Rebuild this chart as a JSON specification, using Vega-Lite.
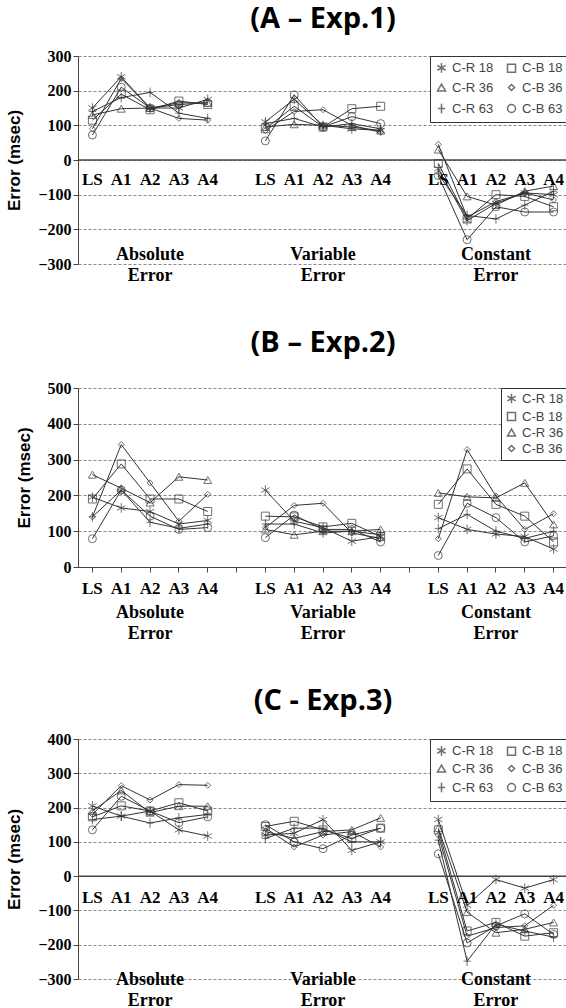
{
"$schema": "https://vega.github.io/schema/vega-lite/v6.json",
"background": "white",
"config": {"view": {"stroke": null}},
"spacing": 44,
"resolve": {"scale": {"shape": "independent"}, "legend": {"shape": "independent"}},
"vconcat": [
{
  "title": {"text": "(A – Exp.1)", "font": "Open Sans", "fontSize": 29, "fontWeight": "bold", "color": "#000", "anchor": "middle", "offset": 14},
  "width": 490, "height": 208,
  "data": {"values": [
{"m":"Absolute","s":"C-R 18","k":"LS","v":150},{"m":"Absolute","s":"C-R 18","k":"A1","v":240},{"m":"Absolute","s":"C-R 18","k":"A2","v":150},{"m":"Absolute","s":"C-R 18","k":"A3","v":150},{"m":"Absolute","s":"C-R 18","k":"A4","v":175},
{"m":"Absolute","s":"C-B 18","k":"LS","v":115},{"m":"Absolute","s":"C-B 18","k":"A1","v":190},{"m":"Absolute","s":"C-B 18","k":"A2","v":145},{"m":"Absolute","s":"C-B 18","k":"A3","v":170},{"m":"Absolute","s":"C-B 18","k":"A4","v":160},
{"m":"Absolute","s":"C-R 36","k":"LS","v":130},{"m":"Absolute","s":"C-R 36","k":"A1","v":148},{"m":"Absolute","s":"C-R 36","k":"A2","v":150},{"m":"Absolute","s":"C-R 36","k":"A3","v":165},{"m":"Absolute","s":"C-R 36","k":"A4","v":165},
{"m":"Absolute","s":"C-B 36","k":"LS","v":90},{"m":"Absolute","s":"C-B 36","k":"A1","v":235},{"m":"Absolute","s":"C-B 36","k":"A2","v":150},{"m":"Absolute","s":"C-B 36","k":"A3","v":120},{"m":"Absolute","s":"C-B 36","k":"A4","v":115},
{"m":"Absolute","s":"C-R 63","k":"LS","v":140},{"m":"Absolute","s":"C-R 63","k":"A1","v":180},{"m":"Absolute","s":"C-R 63","k":"A2","v":195},{"m":"Absolute","s":"C-R 63","k":"A3","v":135},{"m":"Absolute","s":"C-R 63","k":"A4","v":120},
{"m":"Absolute","s":"C-B 63","k":"LS","v":72},{"m":"Absolute","s":"C-B 63","k":"A1","v":210},{"m":"Absolute","s":"C-B 63","k":"A2","v":150},{"m":"Absolute","s":"C-B 63","k":"A3","v":160},{"m":"Absolute","s":"C-B 63","k":"A4","v":165},
{"m":"Variable","s":"C-R 18","k":"LS","v":110},{"m":"Variable","s":"C-R 18","k":"A1","v":175},{"m":"Variable","s":"C-R 18","k":"A2","v":100},{"m":"Variable","s":"C-R 18","k":"A3","v":90},{"m":"Variable","s":"C-R 18","k":"A4","v":85},
{"m":"Variable","s":"C-B 18","k":"LS","v":90},{"m":"Variable","s":"C-B 18","k":"A1","v":155},{"m":"Variable","s":"C-B 18","k":"A2","v":95},{"m":"Variable","s":"C-B 18","k":"A3","v":148},{"m":"Variable","s":"C-B 18","k":"A4","v":155},
{"m":"Variable","s":"C-R 36","k":"LS","v":95},{"m":"Variable","s":"C-R 36","k":"A1","v":103},{"m":"Variable","s":"C-R 36","k":"A2","v":100},{"m":"Variable","s":"C-R 36","k":"A3","v":95},{"m":"Variable","s":"C-R 36","k":"A4","v":85},
{"m":"Variable","s":"C-B 36","k":"LS","v":85},{"m":"Variable","s":"C-B 36","k":"A1","v":140},{"m":"Variable","s":"C-B 36","k":"A2","v":145},{"m":"Variable","s":"C-B 36","k":"A3","v":100},{"m":"Variable","s":"C-B 36","k":"A4","v":80},
{"m":"Variable","s":"C-R 63","k":"LS","v":105},{"m":"Variable","s":"C-R 63","k":"A1","v":120},{"m":"Variable","s":"C-R 63","k":"A2","v":95},{"m":"Variable","s":"C-R 63","k":"A3","v":105},{"m":"Variable","s":"C-R 63","k":"A4","v":90},
{"m":"Variable","s":"C-B 63","k":"LS","v":55},{"m":"Variable","s":"C-B 63","k":"A1","v":188},{"m":"Variable","s":"C-B 63","k":"A2","v":95},{"m":"Variable","s":"C-B 63","k":"A3","v":125},{"m":"Variable","s":"C-B 63","k":"A4","v":105},
{"m":"Constant","s":"C-R 18","k":"LS","v":-25},{"m":"Constant","s":"C-R 18","k":"A1","v":-175},{"m":"Constant","s":"C-R 18","k":"A2","v":-125},{"m":"Constant","s":"C-R 18","k":"A3","v":-95},{"m":"Constant","s":"C-R 18","k":"A4","v":-100},
{"m":"Constant","s":"C-B 18","k":"LS","v":-10},{"m":"Constant","s":"C-B 18","k":"A1","v":-170},{"m":"Constant","s":"C-B 18","k":"A2","v":-100},{"m":"Constant","s":"C-B 18","k":"A3","v":-105},{"m":"Constant","s":"C-B 18","k":"A4","v":-135},
{"m":"Constant","s":"C-R 36","k":"LS","v":30},{"m":"Constant","s":"C-R 36","k":"A1","v":-105},{"m":"Constant","s":"C-R 36","k":"A2","v":-130},{"m":"Constant","s":"C-R 36","k":"A3","v":-90},{"m":"Constant","s":"C-R 36","k":"A4","v":-75},
{"m":"Constant","s":"C-B 36","k":"LS","v":45},{"m":"Constant","s":"C-B 36","k":"A1","v":-165},{"m":"Constant","s":"C-B 36","k":"A2","v":-120},{"m":"Constant","s":"C-B 36","k":"A3","v":-95},{"m":"Constant","s":"C-B 36","k":"A4","v":-115},
{"m":"Constant","s":"C-R 63","k":"LS","v":-40},{"m":"Constant","s":"C-R 63","k":"A1","v":-160},{"m":"Constant","s":"C-R 63","k":"A2","v":-170},{"m":"Constant","s":"C-R 63","k":"A3","v":-130},{"m":"Constant","s":"C-R 63","k":"A4","v":-90},
{"m":"Constant","s":"C-B 63","k":"LS","v":-45},{"m":"Constant","s":"C-B 63","k":"A1","v":-230},{"m":"Constant","s":"C-B 63","k":"A2","v":-135},{"m":"Constant","s":"C-B 63","k":"A3","v":-150},{"m":"Constant","s":"C-B 63","k":"A4","v":-150}
  ]},
  "transform": [{"calculate": "datum.m + '_' + datum.k", "as": "pos"}],
  "layer": [
    {"mark": {"type": "line", "color": "#333", "strokeWidth": 1},
     "encoding": {
       "x": {"field": "pos", "type": "nominal", "scale": {"type": "band", "paddingInner": 0, "paddingOuter": 0, "domain": ["Absolute_LS","Absolute_A1","Absolute_A2","Absolute_A3","Absolute_A4","gap1","Variable_LS","Variable_A1","Variable_A2","Variable_A3","Variable_A4","gap2","Constant_LS","Constant_A1","Constant_A2","Constant_A3","Constant_A4"]}, "axis": null},
       "y": {"field": "v", "type": "quantitative", "scale": {"domain": [-300, 300], "nice": false, "zero": false}, "axis": {"title": "Error (msec)", "values": [-300,-200,-100,0,100,200,300], "tickCount": 50, "gridDash": [3, 2], "gridColor": "#888", "labelFont": "Liberation Serif", "labelFontWeight": "bold", "labelFontSize": 16, "labelColor": "#000", "titleFontSize": 17, "titleColor": "#000", "titlePadding": 14, "domainColor": "#444", "tickColor": "#444"}},
       "detail": [{"field": "s", "type": "nominal"}, {"field": "m", "type": "nominal"}]}},
    {"mark": {"type": "point", "color": "#333", "filled": false, "size": 64, "strokeWidth": 1},
     "encoding": {
       "x": {"field": "pos", "type": "nominal"},
       "y": {"field": "v", "type": "quantitative"},
       "shape": {"field": "s", "type": "nominal", "scale": {"domain": ["C-R 18","C-R 36","C-R 63","C-B 18","C-B 36","C-B 63"], "range": ["M0,-1.2L0,1.2M-1.04,-0.6L1.04,0.6M-1.04,0.6L1.04,-0.6","triangle-up","M0,-1.2L0,1.2M-0.9,0L0.9,0","square","M0,-0.75L0.75,0L0,0.75L-0.75,0Z","circle"]},
         "legend": {"title": null, "orient": "top-right", "offset": 0, "columns": 2, "strokeColor": "#333", "fillColor": "white", "padding": 5, "rowPadding": 5, "columnPadding": 10, "symbolSize": 64, "labelFont": "Liberation Sans", "labelFontSize": 13, "labelColor": "#444"}}}},
    {"data": {"values": [{"z": 0}]},
     "mark": {"type": "rule", "color": "#444", "strokeWidth": 1.5},
     "encoding": {"y": {"field": "z", "type": "quantitative"}}},
    {"data": {"values": [{"pos":"Absolute_LS","t":"LS"},{"pos":"Absolute_A1","t":"A1"},{"pos":"Absolute_A2","t":"A2"},{"pos":"Absolute_A3","t":"A3"},{"pos":"Absolute_A4","t":"A4"},{"pos":"Variable_LS","t":"LS"},{"pos":"Variable_A1","t":"A1"},{"pos":"Variable_A2","t":"A2"},{"pos":"Variable_A3","t":"A3"},{"pos":"Variable_A4","t":"A4"},{"pos":"Constant_LS","t":"LS"},{"pos":"Constant_A1","t":"A1"},{"pos":"Constant_A2","t":"A2"},{"pos":"Constant_A3","t":"A3"},{"pos":"Constant_A4","t":"A4"}]},
     "mark": {"type": "text", "font": "Liberation Serif", "fontWeight": "bold", "fontSize": 17, "baseline": "top", "dy": 12, "color": "#000"},
     "encoding": {"x": {"field": "pos", "type": "nominal"}, "y": {"datum": 0}, "text": {"field": "t"}}},
    {"data": {"values": [{"pos":"Absolute_A2","label":"Absolute\nError"},{"pos":"Variable_A2","label":"Variable\nError"},{"pos":"Constant_A2","label":"Constant\nError"}]},
     "mark": {"type": "text", "lineBreak": "\n", "font": "Liberation Serif", "fontWeight": "bold", "fontSize": 18, "lineHeight": 21, "baseline": "alphabetic", "dy": -4, "color": "#000"},
     "encoding": {"x": {"field": "pos", "type": "nominal"}, "y": {"datum": -300}, "text": {"field": "label"}}}
  ]
},
{
  "title": {"text": "(B – Exp.2)", "font": "Open Sans", "fontSize": 29, "fontWeight": "bold", "color": "#000", "anchor": "middle", "offset": 22},
  "width": 490, "height": 179,
  "data": {"values": [
{"m":"Absolute","s":"C-R 18","k":"LS","v":195},{"m":"Absolute","s":"C-R 18","k":"A1","v":165},{"m":"Absolute","s":"C-R 18","k":"A2","v":155},{"m":"Absolute","s":"C-R 18","k":"A3","v":120},{"m":"Absolute","s":"C-R 18","k":"A4","v":130},
{"m":"Absolute","s":"C-B 18","k":"LS","v":190},{"m":"Absolute","s":"C-B 18","k":"A1","v":288},{"m":"Absolute","s":"C-B 18","k":"A2","v":190},{"m":"Absolute","s":"C-B 18","k":"A3","v":190},{"m":"Absolute","s":"C-B 18","k":"A4","v":155},
{"m":"Absolute","s":"C-R 36","k":"LS","v":258},{"m":"Absolute","s":"C-R 36","k":"A1","v":220},{"m":"Absolute","s":"C-R 36","k":"A2","v":180},{"m":"Absolute","s":"C-R 36","k":"A3","v":252},{"m":"Absolute","s":"C-R 36","k":"A4","v":243},
{"m":"Absolute","s":"C-B 36","k":"LS","v":140},{"m":"Absolute","s":"C-B 36","k":"A1","v":342},{"m":"Absolute","s":"C-B 36","k":"A2","v":235},{"m":"Absolute","s":"C-B 36","k":"A3","v":128},{"m":"Absolute","s":"C-B 36","k":"A4","v":203},
{"m":"Absolute","s":"C-R 63","k":"LS","v":140},{"m":"Absolute","s":"C-R 63","k":"A1","v":215},{"m":"Absolute","s":"C-R 63","k":"A2","v":125},{"m":"Absolute","s":"C-R 63","k":"A3","v":108},{"m":"Absolute","s":"C-R 63","k":"A4","v":120},
{"m":"Absolute","s":"C-B 63","k":"LS","v":79},{"m":"Absolute","s":"C-B 63","k":"A1","v":215},{"m":"Absolute","s":"C-B 63","k":"A2","v":142},{"m":"Absolute","s":"C-B 63","k":"A3","v":105},{"m":"Absolute","s":"C-B 63","k":"A4","v":110},
{"m":"Variable","s":"C-R 18","k":"LS","v":215},{"m":"Variable","s":"C-R 18","k":"A1","v":128},{"m":"Variable","s":"C-R 18","k":"A2","v":110},{"m":"Variable","s":"C-R 18","k":"A3","v":72},{"m":"Variable","s":"C-R 18","k":"A4","v":85},
{"m":"Variable","s":"C-B 18","k":"LS","v":142},{"m":"Variable","s":"C-B 18","k":"A1","v":140},{"m":"Variable","s":"C-B 18","k":"A2","v":112},{"m":"Variable","s":"C-B 18","k":"A3","v":122},{"m":"Variable","s":"C-B 18","k":"A4","v":85},
{"m":"Variable","s":"C-R 36","k":"LS","v":105},{"m":"Variable","s":"C-R 36","k":"A1","v":90},{"m":"Variable","s":"C-R 36","k":"A2","v":100},{"m":"Variable","s":"C-R 36","k":"A3","v":100},{"m":"Variable","s":"C-R 36","k":"A4","v":105},
{"m":"Variable","s":"C-B 36","k":"LS","v":110},{"m":"Variable","s":"C-B 36","k":"A1","v":172},{"m":"Variable","s":"C-B 36","k":"A2","v":178},{"m":"Variable","s":"C-B 36","k":"A3","v":95},{"m":"Variable","s":"C-B 36","k":"A4","v":80},
{"m":"Variable","s":"C-R 63","k":"LS","v":120},{"m":"Variable","s":"C-R 63","k":"A1","v":120},{"m":"Variable","s":"C-R 63","k":"A2","v":95},{"m":"Variable","s":"C-R 63","k":"A3","v":100},{"m":"Variable","s":"C-R 63","k":"A4","v":90},
{"m":"Variable","s":"C-B 63","k":"LS","v":82},{"m":"Variable","s":"C-B 63","k":"A1","v":145},{"m":"Variable","s":"C-B 63","k":"A2","v":105},{"m":"Variable","s":"C-B 63","k":"A3","v":105},{"m":"Variable","s":"C-B 63","k":"A4","v":70},
{"m":"Constant","s":"C-R 18","k":"LS","v":138},{"m":"Constant","s":"C-R 18","k":"A1","v":105},{"m":"Constant","s":"C-R 18","k":"A2","v":92},{"m":"Constant","s":"C-R 18","k":"A3","v":85},{"m":"Constant","s":"C-R 18","k":"A4","v":50},
{"m":"Constant","s":"C-B 18","k":"LS","v":175},{"m":"Constant","s":"C-B 18","k":"A1","v":274},{"m":"Constant","s":"C-B 18","k":"A2","v":175},{"m":"Constant","s":"C-B 18","k":"A3","v":142},{"m":"Constant","s":"C-B 18","k":"A4","v":70},
{"m":"Constant","s":"C-R 36","k":"LS","v":207},{"m":"Constant","s":"C-R 36","k":"A1","v":196},{"m":"Constant","s":"C-R 36","k":"A2","v":193},{"m":"Constant","s":"C-R 36","k":"A3","v":235},{"m":"Constant","s":"C-R 36","k":"A4","v":119},
{"m":"Constant","s":"C-B 36","k":"LS","v":79},{"m":"Constant","s":"C-B 36","k":"A1","v":328},{"m":"Constant","s":"C-B 36","k":"A2","v":198},{"m":"Constant","s":"C-B 36","k":"A3","v":105},{"m":"Constant","s":"C-B 36","k":"A4","v":149},
{"m":"Constant","s":"C-R 63","k":"LS","v":107},{"m":"Constant","s":"C-R 63","k":"A1","v":147},{"m":"Constant","s":"C-R 63","k":"A2","v":100},{"m":"Constant","s":"C-R 63","k":"A3","v":80},{"m":"Constant","s":"C-R 63","k":"A4","v":100},
{"m":"Constant","s":"C-B 63","k":"LS","v":32},{"m":"Constant","s":"C-B 63","k":"A1","v":178},{"m":"Constant","s":"C-B 63","k":"A2","v":138},{"m":"Constant","s":"C-B 63","k":"A3","v":70},{"m":"Constant","s":"C-B 63","k":"A4","v":87}
  ]},
  "transform": [{"calculate": "datum.m + '_' + datum.k", "as": "pos"}],
  "layer": [
    {"mark": {"type": "line", "color": "#333", "strokeWidth": 1},
     "encoding": {
       "x": {"field": "pos", "type": "nominal", "scale": {"type": "band", "paddingInner": 0, "paddingOuter": 0, "domain": ["Absolute_LS","Absolute_A1","Absolute_A2","Absolute_A3","Absolute_A4","gap1","Variable_LS","Variable_A1","Variable_A2","Variable_A3","Variable_A4","gap2","Constant_LS","Constant_A1","Constant_A2","Constant_A3","Constant_A4"]}, "axis": {"title": null, "labelAngle": 0, "labelExpr": "indexof(datum.value, '_') > 0 ? split(datum.value, '_')[1] : ''", "labelFont": "Liberation Serif", "labelFontWeight": "bold", "labelFontSize": 17, "labelColor": "#000", "labelPadding": 8, "domainColor": "#444", "tickColor": "#444"}},
       "y": {"field": "v", "type": "quantitative", "scale": {"domain": [0, 500], "nice": false, "zero": false}, "axis": {"title": "Error (msec)", "values": [0,100,200,300,400,500], "tickCount": 50, "gridDash": [3, 2], "gridColor": "#888", "labelFont": "Liberation Serif", "labelFontWeight": "bold", "labelFontSize": 16, "labelColor": "#000", "titleFontSize": 17, "titleColor": "#000", "titlePadding": 14, "domainColor": "#444", "tickColor": "#444"}},
       "detail": [{"field": "s", "type": "nominal"}, {"field": "m", "type": "nominal"}]}},
    {"mark": {"type": "point", "color": "#333", "filled": false, "size": 64, "strokeWidth": 1},
     "encoding": {
       "x": {"field": "pos", "type": "nominal"},
       "y": {"field": "v", "type": "quantitative"},
       "shape": {"field": "s", "type": "nominal", "scale": {"domain": ["C-R 18","C-B 18","C-R 36","C-B 36","C-R 63","C-B 63"], "range": ["M0,-1.2L0,1.2M-1.04,-0.6L1.04,0.6M-1.04,0.6L1.04,-0.6","square","triangle-up","M0,-0.75L0.75,0L0,0.75L-0.75,0Z","M0,-1.2L0,1.2M-0.9,0L0.9,0","circle"]},
         "legend": {"title": null, "orient": "top-right", "offset": 0, "values": ["C-R 18","C-B 18","C-R 36","C-B 36"], "strokeColor": "#333", "fillColor": "white", "padding": 4, "rowPadding": 2, "symbolSize": 64, "labelFont": "Liberation Sans", "labelFontSize": 13, "labelColor": "#444"}}}},
    {"data": {"values": [{"pos":"Absolute_A2","label":"Absolute\nError"},{"pos":"Variable_A2","label":"Variable\nError"},{"pos":"Constant_A2","label":"Constant\nError"}]},
     "mark": {"type": "text", "lineBreak": "\n", "font": "Liberation Serif", "fontWeight": "bold", "fontSize": 18, "lineHeight": 21, "baseline": "alphabetic", "dy": 51, "color": "#000"},
     "encoding": {"x": {"field": "pos", "type": "nominal"}, "y": {"datum": 0}, "text": {"field": "label"}}}
  ]
},
{
  "title": {"text": "(C - Exp.3)", "font": "Open Sans", "fontSize": 29, "fontWeight": "bold", "color": "#000", "anchor": "middle", "offset": 15},
  "width": 490, "height": 240,
  "data": {"values": [
{"m":"Absolute","s":"C-R 18","k":"LS","v":205},{"m":"Absolute","s":"C-R 18","k":"A1","v":175},{"m":"Absolute","s":"C-R 18","k":"A2","v":190},{"m":"Absolute","s":"C-R 18","k":"A3","v":135},{"m":"Absolute","s":"C-R 18","k":"A4","v":117},
{"m":"Absolute","s":"C-B 18","k":"LS","v":173},{"m":"Absolute","s":"C-B 18","k":"A1","v":205},{"m":"Absolute","s":"C-B 18","k":"A2","v":190},{"m":"Absolute","s":"C-B 18","k":"A3","v":214},{"m":"Absolute","s":"C-B 18","k":"A4","v":190},
{"m":"Absolute","s":"C-R 36","k":"LS","v":190},{"m":"Absolute","s":"C-R 36","k":"A1","v":250},{"m":"Absolute","s":"C-R 36","k":"A2","v":185},{"m":"Absolute","s":"C-R 36","k":"A3","v":204},{"m":"Absolute","s":"C-R 36","k":"A4","v":204},
{"m":"Absolute","s":"C-B 36","k":"LS","v":180},{"m":"Absolute","s":"C-B 36","k":"A1","v":264},{"m":"Absolute","s":"C-B 36","k":"A2","v":222},{"m":"Absolute","s":"C-B 36","k":"A3","v":267},{"m":"Absolute","s":"C-B 36","k":"A4","v":265},
{"m":"Absolute","s":"C-R 63","k":"LS","v":165},{"m":"Absolute","s":"C-R 63","k":"A1","v":175},{"m":"Absolute","s":"C-R 63","k":"A2","v":155},{"m":"Absolute","s":"C-R 63","k":"A3","v":170},{"m":"Absolute","s":"C-R 63","k":"A4","v":180},
{"m":"Absolute","s":"C-B 63","k":"LS","v":135},{"m":"Absolute","s":"C-B 63","k":"A1","v":233},{"m":"Absolute","s":"C-B 63","k":"A2","v":190},{"m":"Absolute","s":"C-B 63","k":"A3","v":156},{"m":"Absolute","s":"C-B 63","k":"A4","v":173},
{"m":"Variable","s":"C-R 18","k":"LS","v":120},{"m":"Variable","s":"C-R 18","k":"A1","v":125},{"m":"Variable","s":"C-R 18","k":"A2","v":165},{"m":"Variable","s":"C-R 18","k":"A3","v":75},{"m":"Variable","s":"C-R 18","k":"A4","v":100},
{"m":"Variable","s":"C-B 18","k":"LS","v":145},{"m":"Variable","s":"C-B 18","k":"A1","v":160},{"m":"Variable","s":"C-B 18","k":"A2","v":135},{"m":"Variable","s":"C-B 18","k":"A3","v":110},{"m":"Variable","s":"C-B 18","k":"A4","v":140},
{"m":"Variable","s":"C-R 36","k":"LS","v":130},{"m":"Variable","s":"C-R 36","k":"A1","v":110},{"m":"Variable","s":"C-R 36","k":"A2","v":130},{"m":"Variable","s":"C-R 36","k":"A3","v":135},{"m":"Variable","s":"C-R 36","k":"A4","v":170},
{"m":"Variable","s":"C-B 36","k":"LS","v":140},{"m":"Variable","s":"C-B 36","k":"A1","v":85},{"m":"Variable","s":"C-B 36","k":"A2","v":120},{"m":"Variable","s":"C-B 36","k":"A3","v":130},{"m":"Variable","s":"C-B 36","k":"A4","v":85},
{"m":"Variable","s":"C-R 63","k":"LS","v":110},{"m":"Variable","s":"C-R 63","k":"A1","v":140},{"m":"Variable","s":"C-R 63","k":"A2","v":140},{"m":"Variable","s":"C-R 63","k":"A3","v":100},{"m":"Variable","s":"C-R 63","k":"A4","v":100},
{"m":"Variable","s":"C-B 63","k":"LS","v":150},{"m":"Variable","s":"C-B 63","k":"A1","v":100},{"m":"Variable","s":"C-B 63","k":"A2","v":80},{"m":"Variable","s":"C-B 63","k":"A3","v":120},{"m":"Variable","s":"C-B 63","k":"A4","v":140},
{"m":"Constant","s":"C-R 18","k":"LS","v":165},{"m":"Constant","s":"C-R 18","k":"A1","v":-85},{"m":"Constant","s":"C-R 18","k":"A2","v":-10},{"m":"Constant","s":"C-R 18","k":"A3","v":-35},{"m":"Constant","s":"C-R 18","k":"A4","v":-10},
{"m":"Constant","s":"C-B 18","k":"LS","v":135},{"m":"Constant","s":"C-B 18","k":"A1","v":-160},{"m":"Constant","s":"C-B 18","k":"A2","v":-135},{"m":"Constant","s":"C-B 18","k":"A3","v":-175},{"m":"Constant","s":"C-B 18","k":"A4","v":-165},
{"m":"Constant","s":"C-R 36","k":"LS","v":140},{"m":"Constant","s":"C-R 36","k":"A1","v":-105},{"m":"Constant","s":"C-R 36","k":"A2","v":-165},{"m":"Constant","s":"C-R 36","k":"A3","v":-155},{"m":"Constant","s":"C-R 36","k":"A4","v":-135},
{"m":"Constant","s":"C-B 36","k":"LS","v":120},{"m":"Constant","s":"C-B 36","k":"A1","v":-175},{"m":"Constant","s":"C-B 36","k":"A2","v":-150},{"m":"Constant","s":"C-B 36","k":"A3","v":-145},{"m":"Constant","s":"C-B 36","k":"A4","v":-85},
{"m":"Constant","s":"C-R 63","k":"LS","v":105},{"m":"Constant","s":"C-R 63","k":"A1","v":-248},{"m":"Constant","s":"C-R 63","k":"A2","v":-140},{"m":"Constant","s":"C-R 63","k":"A3","v":-160},{"m":"Constant","s":"C-R 63","k":"A4","v":-178},
{"m":"Constant","s":"C-B 63","k":"LS","v":65},{"m":"Constant","s":"C-B 63","k":"A1","v":-195},{"m":"Constant","s":"C-B 63","k":"A2","v":-145},{"m":"Constant","s":"C-B 63","k":"A3","v":-110},{"m":"Constant","s":"C-B 63","k":"A4","v":-170}
  ]},
  "transform": [{"calculate": "datum.m + '_' + datum.k", "as": "pos"}],
  "layer": [
    {"mark": {"type": "line", "color": "#333", "strokeWidth": 1},
     "encoding": {
       "x": {"field": "pos", "type": "nominal", "scale": {"type": "band", "paddingInner": 0, "paddingOuter": 0, "domain": ["Absolute_LS","Absolute_A1","Absolute_A2","Absolute_A3","Absolute_A4","gap1","Variable_LS","Variable_A1","Variable_A2","Variable_A3","Variable_A4","gap2","Constant_LS","Constant_A1","Constant_A2","Constant_A3","Constant_A4"]}, "axis": null},
       "y": {"field": "v", "type": "quantitative", "scale": {"domain": [-300, 400], "nice": false, "zero": false}, "axis": {"title": "Error (msec)", "values": [-300,-200,-100,0,100,200,300,400], "tickCount": 50, "gridDash": [3, 2], "gridColor": "#888", "labelFont": "Liberation Serif", "labelFontWeight": "bold", "labelFontSize": 16, "labelColor": "#000", "titleFontSize": 17, "titleColor": "#000", "titlePadding": 14, "domainColor": "#444", "tickColor": "#444"}},
       "detail": [{"field": "s", "type": "nominal"}, {"field": "m", "type": "nominal"}]}},
    {"mark": {"type": "point", "color": "#333", "filled": false, "size": 64, "strokeWidth": 1},
     "encoding": {
       "x": {"field": "pos", "type": "nominal"},
       "y": {"field": "v", "type": "quantitative"},
       "shape": {"field": "s", "type": "nominal", "scale": {"domain": ["C-R 18","C-R 36","C-R 63","C-B 18","C-B 36","C-B 63"], "range": ["M0,-1.2L0,1.2M-1.04,-0.6L1.04,0.6M-1.04,0.6L1.04,-0.6","triangle-up","M0,-1.2L0,1.2M-0.9,0L0.9,0","square","M0,-0.75L0.75,0L0,0.75L-0.75,0Z","circle"]},
         "legend": {"title": null, "orient": "top-right", "offset": 0, "columns": 2, "strokeColor": "#333", "fillColor": "white", "padding": 5, "rowPadding": 3, "columnPadding": 10, "symbolSize": 64, "labelFont": "Liberation Sans", "labelFontSize": 13, "labelColor": "#444"}}}},
    {"data": {"values": [{"z": 0}]},
     "mark": {"type": "rule", "color": "#444", "strokeWidth": 1.5},
     "encoding": {"y": {"field": "z", "type": "quantitative"}}},
    {"data": {"values": [{"pos":"Absolute_LS","t":"LS"},{"pos":"Absolute_A1","t":"A1"},{"pos":"Absolute_A2","t":"A2"},{"pos":"Absolute_A3","t":"A3"},{"pos":"Absolute_A4","t":"A4"},{"pos":"Variable_LS","t":"LS"},{"pos":"Variable_A1","t":"A1"},{"pos":"Variable_A2","t":"A2"},{"pos":"Variable_A3","t":"A3"},{"pos":"Variable_A4","t":"A4"},{"pos":"Constant_LS","t":"LS"},{"pos":"Constant_A1","t":"A1"},{"pos":"Constant_A2","t":"A2"},{"pos":"Constant_A3","t":"A3"},{"pos":"Constant_A4","t":"A4"}]},
     "mark": {"type": "text", "font": "Liberation Serif", "fontWeight": "bold", "fontSize": 17, "baseline": "top", "dy": 14, "color": "#000"},
     "encoding": {"x": {"field": "pos", "type": "nominal"}, "y": {"datum": 0}, "text": {"field": "t"}}},
    {"data": {"values": [{"pos":"Absolute_A2","label":"Absolute\nError"},{"pos":"Variable_A2","label":"Variable\nError"},{"pos":"Constant_A2","label":"Constant\nError"}]},
     "mark": {"type": "text", "lineBreak": "\n", "font": "Liberation Serif", "fontWeight": "bold", "fontSize": 18, "lineHeight": 21, "baseline": "alphabetic", "dy": 6, "color": "#000"},
     "encoding": {"x": {"field": "pos", "type": "nominal"}, "y": {"datum": -300}, "text": {"field": "label"}}}
  ]
}
]
}
